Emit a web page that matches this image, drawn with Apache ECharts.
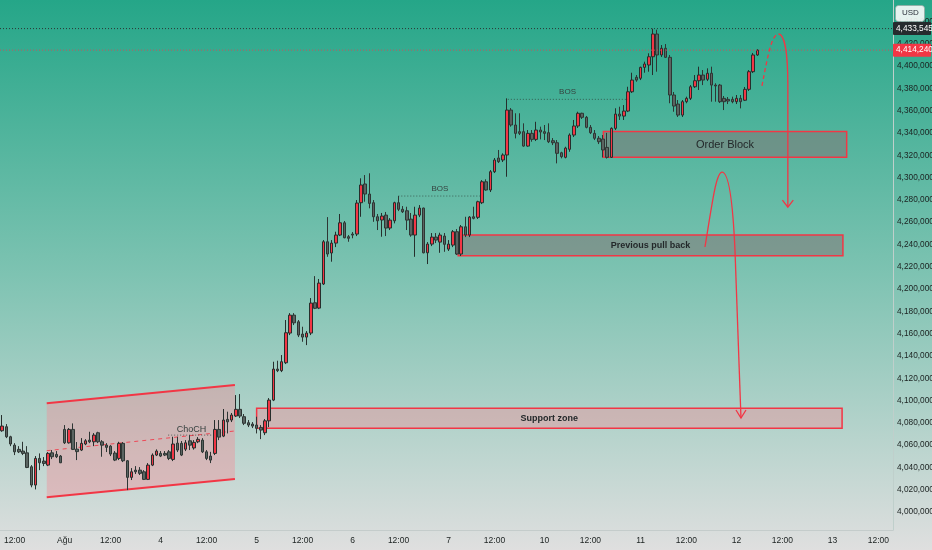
<!DOCTYPE html>
<html><head><meta charset="utf-8">
<script src="https://cdn.jsdelivr.net/npm/echarts/dist/echarts.min.js"></script>
<style>html,body{margin:0;padding:0;background:#dedede;}#c{width:932px;height:550px;}</style>
</head><body><div id="c"></div><script>
const FONT = "'Liberation Sans',Arial,sans-serif";
const BAR_COUNT = 214;
const categories = []; for (let i = 0; i < BAR_COUNT; i++) categories.push(String(i));
const tickIndex  = [3, 15, 26, 38, 49, 61, 72, 84, 95, 107, 118, 130, 141, 153, 164, 176, 187, 199, 210];
const tickLabels = ['12:00','Ağu','12:00','4','12:00','5','12:00','6','12:00','7','12:00','10','12:00','11','12:00','12','12:00','13','12:00'];
const yMin = 3983.9, yMax = 4459.2;   // thousands
const lastPrice = 4414.24, highPrice = 4433.545;

// [open, close, low, high] in thousands
const candles = [
[4072.9,4077.1,4072.0,4087.0],[4076.5,4067.5,4066.3,4078.9],[4067.5,4061.0,4059.1,4068.4],[4060.0,4054.0,4051.1,4061.8],
[4056.2,4054.0,4052.9,4059.1],[4054.7,4052.6,4051.1,4063.0],[4053.1,4040.0,4039.4,4059.1],[4040.6,4024.2,4022.2,4042.1],
[4024.2,4048.1,4020.3,4050.2],[4048.1,4044.2,4037.6,4052.6],[4045.7,4043.6,4041.2,4049.3],[4042.1,4052.6,4041.2,4053.8],
[4053.1,4049.6,4047.5,4055.6],[4051.7,4049.6,4048.4,4054.7],[4050.2,4044.2,4043.9,4051.1],[4074.1,4062.1,4061.0,4078.0],
[4062.1,4074.1,4061.4,4075.3],[4074.1,4056.2,4055.6,4079.5],[4056.4,4054.2,4046.6,4062.8],[4055.6,4061.6,4054.7,4066.3],
[4061.0,4063.9,4060.0,4065.4],[4064.5,4063.0,4061.8,4072.0],[4063.0,4069.0,4059.1,4070.8],[4071.1,4063.0,4061.8,4072.0],
[4063.0,4060.0,4049.6,4064.5],[4060.0,4058.0,4053.8,4061.8],[4059.1,4052.0,4050.2,4060.0],[4052.9,4046.6,4045.7,4054.7],
[4048.1,4061.6,4046.6,4063.0],[4061.6,4046.0,4044.8,4062.8],[4046.0,4031.1,4019.7,4046.6],[4031.1,4036.1,4028.7,4039.4],
[4037.6,4036.1,4034.1,4041.2],[4037.6,4034.7,4033.2,4040.3],[4036.1,4029.3,4028.7,4037.6],[4029.3,4042.1,4028.7,4043.9],
[4042.1,4051.1,4041.2,4052.6],[4051.1,4054.7,4050.2,4056.2],[4052.6,4050.2,4049.3,4054.7],[4052.6,4051.1,4050.2,4054.7],
[4054.0,4048.1,4046.6,4055.6],[4047.2,4061.0,4045.7,4067.5],[4061.8,4055.6,4053.8,4067.5],[4061.6,4051.1,4050.2,4063.7],
[4056.4,4062.1,4054.7,4064.5],[4063.9,4060.0,4055.6,4069.0],[4057.5,4062.5,4056.0,4064.5],[4063.0,4065.2,4061.8,4067.2],
[4064.5,4054.0,4052.9,4066.3],[4054.0,4048.1,4046.6,4055.6],[4050.2,4046.6,4043.9,4054.0],[4052.6,4074.1,4051.1,4082.5],
[4074.1,4067.2,4064.5,4082.5],[4068.1,4082.5,4067.2,4092.4],[4083.1,4080.9,4070.5,4090.0],[4082.5,4087.0,4080.7,4088.8],
[4086.1,4092.1,4085.2,4104.9],[4092.1,4086.1,4084.3,4105.8],[4085.5,4079.6,4078.0,4087.9],[4080.1,4078.0,4076.2,4082.5],
[4078.9,4077.1,4075.3,4080.7],[4078.0,4075.1,4070.5,4085.5],[4075.9,4073.5,4065.4,4078.0],[4071.1,4081.8,4069.0,4083.4],
[4081.8,4100.4,4076.2,4102.2],[4100.4,4128.2,4099.5,4134.8],[4128.2,4126.8,4125.5,4135.7],[4126.8,4134.8,4125.5,4140.8],
[4133.9,4160.8,4132.7,4172.2],[4160.5,4176.6,4158.7,4178.4],[4176.6,4169.7,4167.7,4178.4],[4170.6,4158.7,4156.9,4172.2],
[4159.6,4156.9,4152.7,4166.2],[4156.9,4160.5,4149.7,4162.3],[4160.5,4187.4,4158.7,4191.9],[4187.7,4182.7,4182.0,4211.6],
[4182.9,4205.3,4182.0,4209.0],[4204.5,4242.4,4203.6,4243.9],[4242.4,4231.4,4228.9,4264.5],[4232.3,4241.2,4224.5,4243.9],
[4241.2,4248.4,4237.6,4251.4],[4248.4,4259.4,4247.5,4267.3],[4259.4,4246.0,4245.5,4261.0],[4246.9,4245.5,4242.4,4248.4],
[4249.3,4248.4,4245.5,4251.1],[4249.3,4277.1,4247.5,4279.8],[4277.4,4293.3,4264.8,4299.3],[4294.2,4285.2,4278.3,4302.2],
[4285.2,4276.8,4272.4,4303.8],[4277.4,4264.8,4260.3,4279.8],[4264.8,4261.2,4252.9,4267.3],[4261.9,4265.4,4246.9,4268.2],
[4266.3,4254.7,4247.5,4269.1],[4254.7,4261.8,4252.9,4263.6],[4261.2,4277.4,4258.9,4278.3],[4277.4,4271.5,4269.9,4283.4],
[4271.5,4269.3,4268.2,4274.4],[4270.2,4261.8,4252.9,4273.8],[4262.7,4248.4,4246.9,4268.2],[4248.4,4266.3,4228.9,4273.8],
[4266.3,4272.6,4264.5,4275.3],[4272.6,4232.5,4232.0,4273.0],[4232.5,4240.3,4222.4,4242.1],[4240.3,4246.6,4238.5,4250.2],
[4246.6,4243.9,4241.2,4250.2],[4242.1,4248.4,4232.5,4250.5],[4247.5,4240.1,4233.4,4250.2],[4235.8,4240.3,4234.1,4243.9],
[4239.4,4251.4,4237.6,4252.9],[4251.4,4231.4,4230.5,4253.8],[4231.4,4255.8,4229.6,4257.4],[4255.8,4248.4,4246.6,4264.8],
[4248.4,4264.5,4246.6,4265.4],[4264.8,4263.4,4262.5,4273.8],[4264.3,4278.3,4262.8,4279.2],[4277.4,4296.2,4276.2,4297.7],
[4296.2,4288.8,4288.2,4298.4],[4288.8,4305.2,4287.0,4306.7],[4305.2,4315.7,4304.0,4317.5],[4317.5,4314.2,4313.0,4324.7],
[4315.7,4320.2,4313.9,4321.7],[4320.2,4360.5,4300.7,4371.0],[4360.5,4347.1,4345.6,4362.3],[4347.1,4339.6,4335.1,4357.6],
[4341.1,4339.6,4338.1,4357.6],[4341.1,4328.2,4327.6,4348.6],[4328.2,4339.6,4327.6,4342.6],[4339.6,4334.2,4332.1,4342.6],
[4334.2,4342.6,4332.7,4350.0],[4342.6,4340.8,4334.2,4345.6],[4341.1,4339.6,4333.6,4347.1],[4340.2,4332.1,4330.9,4348.6],
[4333.0,4331.2,4329.1,4335.4],[4331.2,4321.7,4312.7,4333.6],[4322.2,4318.7,4317.2,4323.1],[4318.1,4326.4,4317.2,4327.6],
[4325.3,4338.1,4323.1,4339.6],[4338.1,4346.2,4336.3,4351.6],[4346.2,4357.6,4344.4,4359.0],[4357.6,4354.0,4352.5,4358.1],
[4354.0,4345.0,4344.1,4355.2],[4345.0,4340.2,4339.0,4347.1],[4339.6,4335.2,4333.6,4342.6],[4335.2,4332.1,4330.0,4337.2],
[4334.5,4324.7,4318.0,4338.1],[4327.0,4318.1,4317.0,4340.0],[4318.1,4344.1,4317.5,4345.0],[4344.1,4356.9,4342.6,4362.1],
[4356.9,4355.1,4351.6,4363.5],[4355.1,4359.6,4351.6,4365.0],[4359.6,4376.9,4358.7,4381.4],[4376.9,4387.4,4375.8,4394.0],
[4389.9,4387.4,4385.9,4391.9],[4389.0,4398.8,4387.4,4399.4],[4398.8,4401.8,4394.0,4403.9],[4400.9,4408.3,4394.9,4411.4],
[4408.3,4428.7,4391.9,4433.5],[4428.7,4409.9,4394.9,4432.6],[4409.9,4415.9,4408.1,4418.8],[4415.9,4407.8,4407.2,4419.7],
[4407.8,4374.0,4366.6,4409.9],[4374.0,4364.1,4359.0,4376.7],[4365.9,4356.0,4354.3,4369.5],[4356.0,4368.0,4354.3,4369.5],
[4368.0,4371.0,4366.6,4372.5],[4371.0,4381.4,4369.5,4382.9],[4381.4,4386.8,4380.3,4391.9],[4386.8,4391.9,4378.5,4399.4],
[4391.9,4387.4,4382.9,4396.4],[4388.1,4393.5,4386.5,4397.9],[4393.5,4382.9,4368.0,4399.4],[4382.9,4382.1,4368.0,4384.5],
[4382.9,4368.0,4366.8,4383.9],[4371.0,4368.0,4360.5,4373.1],[4370.1,4368.6,4365.9,4372.2],[4370.1,4368.0,4366.6,4372.5],
[4368.0,4371.0,4365.9,4374.0],[4371.0,4368.0,4362.0,4374.0],[4369.3,4379.1,4368.6,4381.2],[4379.1,4394.9,4377.6,4396.4],
[4394.9,4409.9,4393.7,4411.7],[4409.9,4414.24,4409.0,4415.0]
];

// annotations in data coordinates: [bar index, price (thousands)]
const channelTop    = [[10.7, 4097.5], [55.8, 4113.9]];
const channelBottom = [[10.7, 4013.2], [55.8, 4029.6]];
const channelMid    = [[10.7, 4055.0], [55.8, 4072.7]];
const zoneNames   = ['Support zone', 'Previous pull back', 'Order Block'];
const zoneLeft    = [61.0, 109.3, 144.1];
const zoneRight   = [201.3, 201.5, 202.4];
const zoneTop     = [4093.0, 4248.4, 4341.3];
const zoneBottom  = [4075.1, 4229.8, 4318.1];
const structLabels = ['BOS', 'BOS', 'ChoCH'];
const structLeft   = [94.95, 121.2, 39.8];
const structRight  = [114.5, 150.0, 50.5];
const structPrice  = [4283.4, 4370.1, 4069.0];
const structLabelX = [104.9, 135.5, 45.4];
const structLabelY = [4290.3, 4377.0, 4074.4];
// projected path A (from last price up, then down to the order block)
const pathA = {
  rise: [[182.1, 4382.1], [183.5, 4410.0], [184.5, 4428.7], [186.05, 4428.7]],
  fall: [[186.05, 4428.7], [187.6, 4428.7], [188.3, 4409.9], [188.3, 4383.0]],
  drop: [[188.3, 4383.0], [188.3, 4273.5]],
  head: [[187.0, 4279.8], [188.3, 4273.5], [189.6, 4279.8]]
};
// projected path B (from previous pull back up, then down to support zone)
const pathB = {
  rise: [[168.44, 4237.7], [170.12, 4275.3], [171.08, 4304.9], [172.52, 4304.9]],
  fall: [[172.52, 4304.9], [174.19, 4304.9], [175.15, 4275.3], [175.63, 4235.0]],
  drop: [[175.63, 4235.0], [177.07, 4084.3]],
  head: [[175.87, 4091.5], [177.07, 4084.3], [178.27, 4091.5]]
};

const RED = '#f23645';
const fmtPrice = v => Math.round(v * 1000).toLocaleString('en-US');

const chart = echarts.init(document.getElementById('c'), null, {renderer: 'canvas'});

function seg(api, a, b) { const p = api.coord(a), q = api.coord(b); return {x1: p[0], y1: p[1], x2: q[0], y2: q[1]}; }
function bez(api, pts) {
  const p = pts.map(x => api.coord(x));
  return {x1: p[0][0], y1: p[0][1], cpx1: p[1][0], cpy1: p[1][1], cpx2: p[2][0], cpy2: p[2][1], x2: p[3][0], y2: p[3][1]};
}
function textEl(x, y, text, font, fill, align) {
  return {type: 'text', x: x, y: y, style: {text: text, font: font, fill: fill, align: align || 'center', verticalAlign: 'middle', textAlign: align || 'center', textVerticalAlign: 'middle'}};
}
function pathEls(api, path) {
  const st = {stroke: RED, lineWidth: 1.3, fill: null};
  return [
    {type: 'bezierCurve', shape: bez(api, path.rise), style: Object.assign({}, st, path === pathA ? {lineDash: [4, 3]} : {})},
    {type: 'bezierCurve', shape: bez(api, path.fall), style: st},
    {type: 'line', shape: seg(api, path.drop[0], path.drop[1]), style: st},
    {type: 'polyline', shape: {points: path.head.map(p => api.coord(p))}, style: st}
  ];
}

const option = {
  animation: false,
  backgroundColor: new echarts.graphic.LinearGradient(0, 0, 0, 1, [
    {offset: 0, color: '#25a688'}, {offset: 0.5, color: '#7ec3b2'}, {offset: 1, color: '#dfdfdf'}
  ]),
  grid: {left: 0, right: 39, top: 0, bottom: 20, containLabel: false, outerBoundsMode: 'none'},
  xAxis: [{
    type: 'category', data: categories, boundaryGap: true,
    axisLine: {show: true, lineStyle: {color: '#c4cccb', width: 1}},
    axisTick: {show: false}, splitLine: {show: false},
    axisLabel: {
      interval: (i) => tickIndex.indexOf(i) >= 0,
      formatter: (v, i) => { const k = tickIndex.indexOf(i); return k >= 0 ? tickLabels[k] : ''; },
      color: '#1b2120', fontSize: 8.5, fontFamily: FONT, margin: 6, hideOverlap: false
    }
  }, {
    type: 'value', min: -0.5, max: BAR_COUNT - 0.5, show: false
  }],
  yAxis: {
    type: 'value', position: 'right', min: yMin, max: yMax, scale: true,
    splitNumber: 24, minInterval: 20, maxInterval: 20,
    axisLine: {show: true, onZero: false, lineStyle: {color: '#bfcfcb', width: 1}},
    axisTick: {show: false}, splitLine: {show: false},
    axisLabel: {formatter: fmtPrice, color: '#1b2120', fontSize: 8.3, fontFamily: FONT, margin: 4,
                showMinLabel: false, showMaxLabel: false}
  },
  graphic: [
    {type: 'rect', left: 895, top: 5, shape: {width: 29, height: 16, r: 3},
     style: {fill: 'rgba(245,248,247,0.92)', stroke: 'rgba(150,160,158,0.6)', lineWidth: 1}, z: 20},
    {type: 'text', left: 902, top: 9, style: {text: 'USD', font: '8px ' + FONT, fill: '#2a2e39'}, z: 21}
  ],
  series: [
    { // rising channel
      type: 'custom', xAxisIndex: 1, silent: true, z: 1, data: [[channelTop[0][0], channelTop[0][1]]],
      renderItem: (params, api) => ({type: 'group', children: [
        {type: 'polygon', shape: {points: [channelTop[0], channelTop[1], channelBottom[1], channelBottom[0]].map(p => api.coord(p))},
         style: {fill: 'rgba(242,140,150,0.40)'}},
        {type: 'line', shape: seg(api, channelTop[0], channelTop[1]), style: {stroke: RED, lineWidth: 2}},
        {type: 'line', shape: seg(api, channelBottom[0], channelBottom[1]), style: {stroke: RED, lineWidth: 2}},
        {type: 'line', shape: seg(api, channelMid[0], channelMid[1]), style: {stroke: RED, lineWidth: 1, lineDash: [4, 4], opacity: 0.85}}
      ]})
    },
    { // zones
      type: 'custom', xAxisIndex: 1, silent: true, z: 1,
      data: zoneNames.map((n, i) => [zoneLeft[i], zoneTop[i]]),
      renderItem: (params, api) => {
        const i = params.dataIndex;
        const p = api.coord([zoneLeft[i], zoneTop[i]]), q = api.coord([zoneRight[i], zoneBottom[i]]);
        const fill = i === 0 ? 'rgba(242,140,150,0.40)' : 'rgba(130,118,118,0.55)';
        return {type: 'rect', shape: {x: p[0], y: p[1], width: q[0] - p[0], height: q[1] - p[1]},
                style: {fill: fill, stroke: RED, lineWidth: 1.5}};
      }
    },
    {
      type: 'candlestick', data: candles, barWidth: 3, z: 2,
      itemStyle: {color: RED, color0: '#5a6461', borderColor: '#262e2c', borderColor0: '#2e3634', borderWidth: 1}
    },
    { // dotted horizontal lines (high & last price) + structure lines
      type: 'custom', xAxisIndex: 1, silent: true, z: 3, data: [[0, highPrice]],
      renderItem: (params, api) => {
        const cs = params.coordSys;
        const yH = api.coord([0, highPrice])[1], yL = api.coord([0, lastPrice])[1];
        const kids = [
          {type: 'line', shape: {x1: cs.x, y1: yH, x2: cs.x + cs.width, y2: yH}, style: {stroke: '#2b3634', lineWidth: 1, lineDash: [1, 2]}},
          {type: 'line', shape: {x1: cs.x, y1: yL, x2: cs.x + cs.width, y2: yL}, style: {stroke: 'rgba(215,70,85,0.85)', lineWidth: 1, lineDash: [1, 2]}}
        ];
        structLabels.forEach((lab, i) => {
          kids.push({type: 'line', shape: seg(api, [structLeft[i], structPrice[i]], [structRight[i], structPrice[i]]),
                     style: {stroke: 'rgba(45,65,60,0.75)', lineWidth: 1, lineDash: [1, 2]}});
          const t = api.coord([structLabelX[i], structLabelY[i]]);
          kids.push(textEl(t[0], t[1], lab, (lab === 'BOS' ? '8px ' : '9px ') + FONT, '#35403e'));
        });
        return {type: 'group', children: kids};
      }
    },
    { // projected paths
      type: 'custom', xAxisIndex: 1, silent: true, z: 4, data: [[pathA.rise[0][0], pathA.rise[0][1]]],
      renderItem: (params, api) => ({type: 'group', children: pathEls(api, pathA).concat(pathEls(api, pathB))})
    },
    { // zone captions
      type: 'custom', xAxisIndex: 1, silent: true, z: 5,
      data: zoneNames.map((n, i) => [zoneLeft[i], zoneTop[i]]),
      renderItem: (params, api) => {
        const i = params.dataIndex;
        const c = api.coord([(zoneLeft[i] + zoneRight[i]) / 2, (zoneTop[i] + zoneBottom[i]) / 2]);
        const font = i === 2 ? '500 11px ' : 'bold 9px ';
        return textEl(c[0], c[1] + 0.5, zoneNames[i], font + FONT, '#23282a');
      }
    },
    { // price tags on the scale
      type: 'custom', xAxisIndex: 1, silent: true, z: 10, clip: false, data: [[0, highPrice], [0, lastPrice]],
      renderItem: (params, api) => {
        const cs = params.coordSys;
        const v = params.dataIndex === 0 ? highPrice : lastPrice;
        const y = api.coord([0, v])[1];
        const fill = params.dataIndex === 0 ? '#262b2e' : RED;
        return {type: 'group', children: [
          {type: 'rect', shape: {x: cs.x + cs.width, y: y - 6.5, width: 38, height: 13, r: 1}, style: {fill: fill}},
          textEl(cs.x + cs.width + 3, y, fmtPrice(v), '8.3px ' + FONT, '#ffffff', 'left')
        ]};
      }
    }
  ]
};
chart.setOption(option);
</script></body></html>
